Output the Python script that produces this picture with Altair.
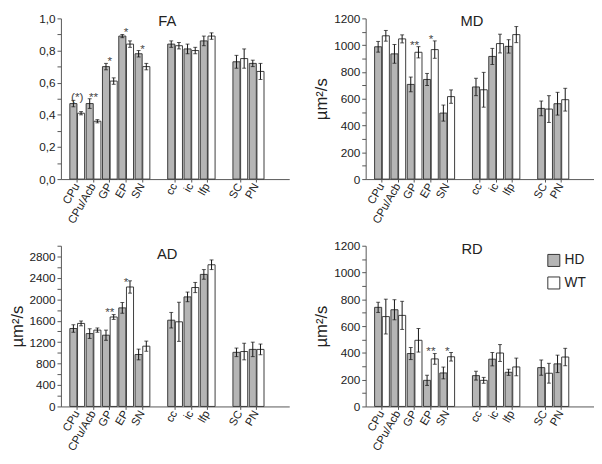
import altair as alt
import pandas as pd

categories = ["CPu", "CPu/Acb", "GP", "EP", "SN", "cc", "ic", "lfp", "SC", "PN"]
x_domain = ["CPu", "CPu/Acb", "GP", "EP", "SN", " ", "cc", "ic", "lfp", "  ", "SC", "PN", "   "]
groups = ["HD", "WT"]

fa_hd = [0.47, 0.47, 0.70, 0.89, 0.78, 0.84, 0.81, 0.86, 0.73, 0.72]
fa_hd_err = [0.02, 0.03, 0.02, 0.01, 0.02, 0.02, 0.03, 0.03, 0.04, 0.02]
fa_wt = [0.41, 0.36, 0.61, 0.84, 0.70, 0.83, 0.80, 0.89, 0.75, 0.67]
fa_wt_err = [0.01, 0.01, 0.02, 0.02, 0.02, 0.02, 0.02, 0.02, 0.06, 0.05]

md_hd = [988, 935, 707, 744, 493, 688, 916, 991, 528, 563]
md_hd_err = [40, 70, 55, 45, 60, 65, 60, 50, 55, 85]
md_wt = [1070, 1047, 947, 967, 616, 667, 1012, 1079, 523, 593]
md_wt_err = [40, 30, 42, 65, 50, 130, 70, 60, 100, 85]

ad_hd = [1455, 1360, 1330, 1840, 970, 1610, 2045, 2465, 1010, 1065]
ad_hd_err = [70, 90, 95, 100, 100, 145, 90, 90, 80, 135]
ad_wt = [1550, 1425, 1670, 2230, 1125, 1580, 2220, 2645, 1025, 1065]
ad_wt_err = [45, 40, 45, 115, 95, 365, 95, 90, 155, 100]

rd_hd = [740, 722, 395, 195, 250, 230, 353, 255, 290, 318]
rd_hd_err = [38, 75, 45, 38, 44, 33, 50, 23, 57, 65]
rd_wt = [671, 680, 494, 355, 371, 195, 399, 295, 248, 369]
rd_wt_err = [130, 105, 88, 40, 32, 22, 63, 66, 74, 65]

fa_star_cat = ["CPu", "CPu/Acb", "GP", "EP", "SN"]
fa_star_txt = ["(*)", "**", "*", "*", "*"]
fa_star_y = [0.53, 0.53, 0.755, 0.935, 0.825]
md_star_cat = ["GP", "EP"]
md_star_txt = ["**", "*"]
md_star_y = [1025, 1067]
ad_star_cat = ["GP", "EP"]
ad_star_txt = ["**", "*"]
ad_star_y = [1810, 2385]
rd_star_cat = ["EP", "SN"]
rd_star_txt = ["**", "*"]
rd_star_y = [433, 438]

fa_ticks = [round(i * 0.1, 1) for i in range(11)]
md_ticks = list(range(0, 1201, 100))
ad_ticks = list(range(0, 3001, 200))
rd_ticks = list(range(0, 1201, 100))

FONT = "Liberation Sans"
W, H = 233, 164


def panel(title, hd, hd_err, wt, wt_err, s_cat, s_txt, s_y, ydom, yticks, label_expr, ytitle, legend):
    df = pd.DataFrame({
        "cat": categories + categories,
        "group": ["HD"] * len(categories) + ["WT"] * len(categories),
        "mean": hd + wt,
        "err": hd_err + wt_err,
    })
    sdf = pd.DataFrame({"cat": s_cat, "t": s_txt, "y": s_y})

    xaxis = alt.Axis(values=categories, title=None, labelAngle=-60, tickSize=3,
                     labelFontSize=11.5, labelColor="#222", domain=True, domainColor="#555",
                     domainWidth=1, tickColor="#555", labelPadding=2)
    xenc = alt.X("cat:N", sort=x_domain,
                 scale=alt.Scale(domain=x_domain, paddingInner=0, paddingOuter=0.5),
                 axis=xaxis)
    xoff = alt.XOffset("group:N", scale=alt.Scale(domain=groups, paddingInner=0.08, paddingOuter=0.1))
    yscale = alt.Scale(domain=ydom, nice=False, zero=True)
    yaxis = alt.Axis(title=ytitle if ytitle else None, values=yticks, labelExpr=label_expr,
                     tickSize=4, grid=False, domain=True, domainWidth=1,
                     labelFontSize=12, labelColor="#222", domainColor="#555",
                     tickColor="#555", labelPadding=2, titleFontSize=17,
                     titleFontWeight="normal", titleColor="#222", titlePadding=3)

    if legend:
        leg = alt.Legend(title=None, orient="top-right", offset=8,
                         symbolType="square", symbolSize=150,
                         symbolStrokeColor="#333", symbolStrokeWidth=1,
                         labelFontSize=14, labelColor="#222", rowPadding=5)
    else:
        leg = None

    base = alt.Chart(df).transform_calculate(lo="datum.mean - datum.err",
                                              hi="datum.mean + datum.err")
    bars = base.mark_bar(stroke="#3a3a3a", strokeWidth=1).encode(
        x=xenc, xOffset=xoff,
        y=alt.Y("mean:Q", scale=yscale, axis=yaxis),
        fill=alt.Fill("group:N", scale=alt.Scale(domain=groups, range=["#b5b5b5", "#ffffff"]), legend=leg),
    )
    rule = base.mark_rule(color="#111", strokeWidth=1).encode(
        x=xenc, xOffset=xoff, y=alt.Y("lo:Q", scale=yscale, axis=yaxis), y2="hi:Q")
    cap_lo = base.mark_tick(color="#111", size=4, thickness=1).encode(
        x=xenc, xOffset=xoff, y=alt.Y("lo:Q", scale=yscale, axis=yaxis))
    cap_hi = base.mark_tick(color="#111", size=4, thickness=1).encode(
        x=xenc, xOffset=xoff, y=alt.Y("hi:Q", scale=yscale, axis=yaxis))
    stars = alt.Chart(sdf).mark_text(fontSize=12, color="#444", dy=3).encode(
        x=xenc, y=alt.Y("y:Q", scale=yscale, axis=yaxis), text="t:N")

    return alt.layer(bars, rule, cap_lo, cap_hi, stars).properties(
        width=W, height=H,
        title=alt.TitleParams(title, offset=-17, fontSize=15, fontWeight="normal",
                              color="#222", anchor="middle", frame="group", dx=-8),
    )


fa_expr = "round(datum.value*10) % 2 == 0 ? replace(format(datum.value, '.1f'), '.', ',') : ''"
md_expr = "datum.value % 200 == 0 ? format(datum.value, 'd') : ''"
ad_expr = "datum.value % 400 == 0 ? format(datum.value, 'd') : ''"

fa = panel("FA", fa_hd, fa_hd_err, fa_wt, fa_wt_err, fa_star_cat, fa_star_txt, fa_star_y,
           [0, 1.0], fa_ticks, fa_expr, None, False)
md = panel("MD", md_hd, md_hd_err, md_wt, md_wt_err, md_star_cat, md_star_txt, md_star_y,
           [0, 1200], md_ticks, md_expr, "µm²/s", False)
ad = panel("AD", ad_hd, ad_hd_err, ad_wt, ad_wt_err, ad_star_cat, ad_star_txt, ad_star_y,
           [0, 3000], ad_ticks, ad_expr, "µm²/s", False)
rd = panel("RD", rd_hd, rd_hd_err, rd_wt, rd_wt_err, rd_star_cat, rd_star_txt, rd_star_y,
           [0, 1200], rd_ticks, md_expr, "µm²/s", True)

chart = alt.concat(fa, md, ad, rd, columns=2, spacing={"row": 14, "column": 24}).resolve_scale(
    fill="independent"
).properties(padding=0).configure(font=FONT).configure_view(stroke=None)

chart.save("out.html", embed_options={"renderer": "svg", "actions": False})
